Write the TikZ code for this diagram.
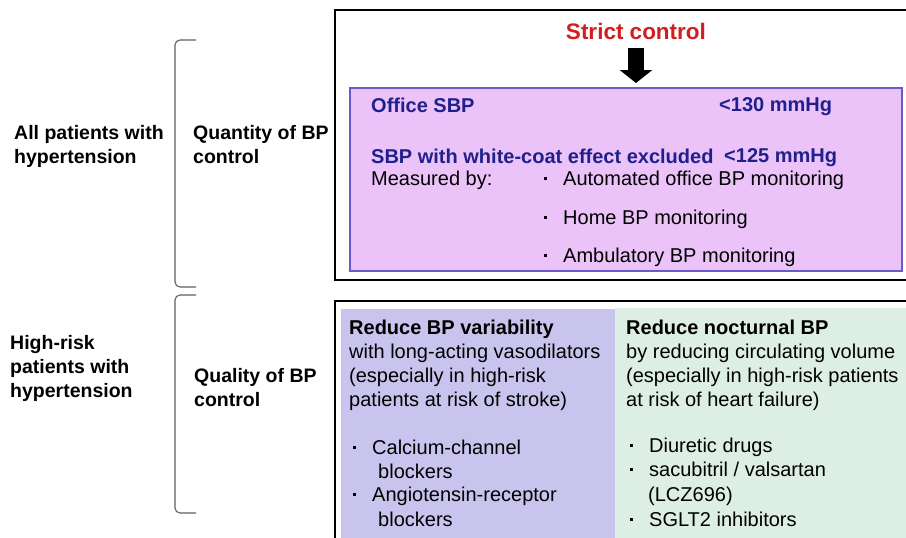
\documentclass[tikz,border=0pt]{standalone}
\usepackage{fontspec}
\setmainfont{Liberation Sans}
\usepackage{tikz}
\usetikzlibrary{arrows.meta, positioning, calc}
\definecolor{strictRed}{HTML}{D21E1E}
\definecolor{sbpBlue}{HTML}{20208C}
\definecolor{sbpFill}{HTML}{EBC3F9}
\definecolor{sbpLine}{HTML}{6A5ACD}
\definecolor{varFill}{HTML}{C9C4EE}
\definecolor{volFill}{HTML}{DDEEE4}
\definecolor{braceGray}{HTML}{606060}
\newcommand{\sqbul}{\makebox[19pt][l]{\rule[5.5pt]{3pt}{3pt}}}

\begin{document}
\begin{tikzpicture}[>=Stealth, x=1pt, y=-1pt,
	lbl/.style={font=\bfseries\fontsize{19.5}{24}\selectfont, align=left, anchor=north west, inner sep=0pt},
	txt/.style={font=\fontsize{20}{24}\selectfont, align=left, anchor=north west, inner sep=0pt},
	hd/.style={txt, font=\bfseries\fontsize{20}{24}\selectfont},
	panel/.style={anchor=north west, inner sep=0pt, outer sep=0pt}]
	\useasboundingbox (0,0) rectangle (906,538);
	\clip (0,0) rectangle (906,538);
	
	% Left labels and brackets
	\node[lbl] (allpat) at (14,125.5) {All patients with\\hypertension};
	\node[lbl] (highrisk) at (10,335.5) {High-risk\\patients with\\hypertension};
	\draw[braceGray, line width=1.1pt, rounded corners=5pt] (196,40) -- (175,40) -- (175,287) -- (196,287);
	\draw[braceGray, line width=1.1pt, rounded corners=5pt] (196,295) -- (175,295) -- (175,513) -- (196,513);
	\node[lbl] (quantity) at (193,125.5) {Quantity of BP\\control};
	\node[lbl] (quality) at (194,368.5) {Quality of BP\\control};
	
	% Quantity: strict control
	\draw[line width=2.2pt] (335,10) rectangle (930,280);
	\node[panel, draw=sbpLine, fill=sbpFill, line width=1.2pt, minimum width=552pt, minimum height=183pt] (sbpbox) at (350,88) {};
	\node[anchor=base, inner sep=0pt, text=strictRed, font=\bfseries\fontsize{22.5}{27}\selectfont] (strict) at (636,39) {Strict control};
	\draw[line width=16pt, -{Triangle[width=32pt,length=13pt]}, shorten <=9pt, shorten >=5pt] (strict.south) -- (strict.south |- sbpbox.north);
	
	\node[hd, text=sbpBlue] (office) at (371,97.5) {Office SBP};
	\node[hd, text=sbpBlue] (lim130) at (719,97.5) {<130 mmHg};
	\node[hd, text=sbpBlue] (wcoat) at (371,148.5) {SBP with white-coat effect excluded};
	\node[hd, text=sbpBlue] (lim125) at (724,148.5) {<125 mmHg};
	\node[txt] (measured) at (371,170.5) {Measured by:};
	\node[txt] (methods) at (544,170.5) {\sqbul Automated office BP monitoring\\[15pt]
		\sqbul Home BP monitoring\\[14pt]
		\sqbul Ambulatory BP monitoring};
	
	% Quality: two columns
	\draw[line width=2.2pt] (335,301) rectangle (930,560);
	\node[panel, fill=varFill, minimum width=274pt, minimum height=240pt] (varbox) at (341,309) {};
	\node[panel, fill=volFill, minimum width=300pt, minimum height=240pt] (volbox) at (615,308) {};
	
	\node[txt] (varhead) at (349,319.5) {\textbf{Reduce BP variability}\\with long-acting vasodilators\\(especially in high-risk\\patients at risk of stroke)};
	\node[txt] (varlist) at (353,439.5) {\sqbul Calcium-channel\\\hspace*{25pt}blockers\\[-1pt]
		\sqbul Angiotensin-receptor\\[1pt]\hspace*{25pt}blockers};
	
	\node[txt] (volhead) at (626,319.5) {\textbf{Reduce nocturnal BP}\\by reducing circulating volume\\(especially in high-risk patients\\at risk of heart failure)};
	\node[txt] (vollist) at (630,437.5) {\sqbul Diuretic drugs\\\sqbul sacubitril / valsartan\\[1pt]
		\hspace*{18pt}(LCZ696)\\[1pt]\sqbul SGLT2 inhibitors};
\end{tikzpicture}
\end{document}
